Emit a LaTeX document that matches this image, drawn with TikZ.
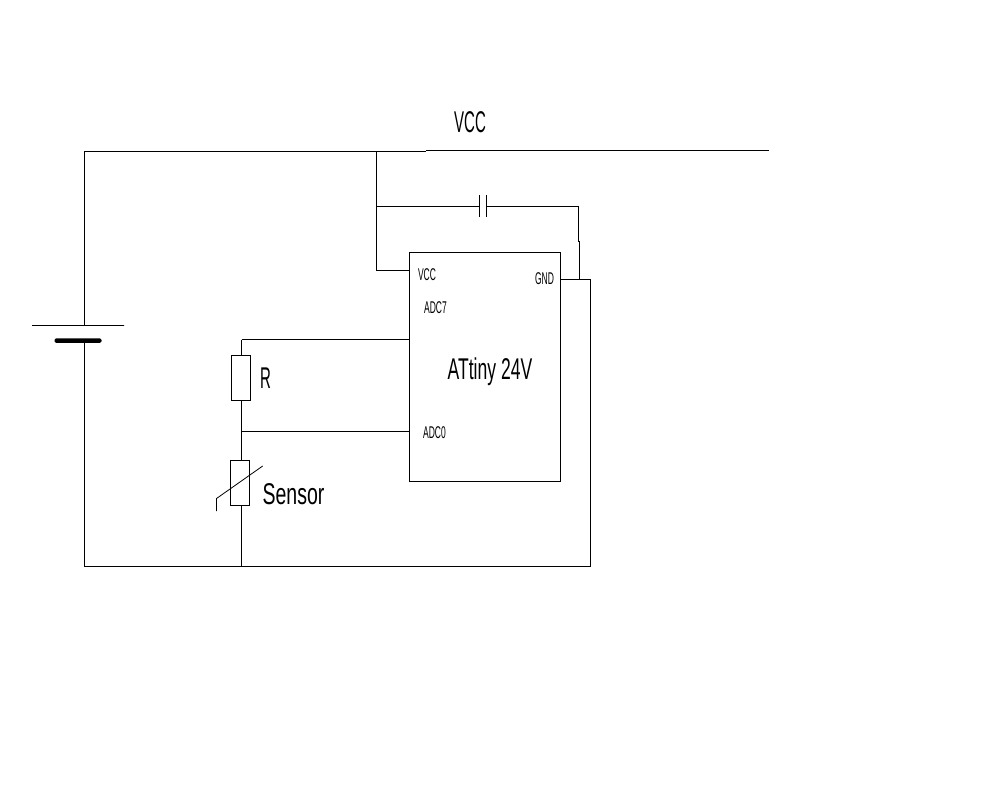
\documentclass[tikz,border=0pt]{standalone}
\usepackage{fontspec}
\setmainfont{Liberation Sans}[FakeStretch=0.5]
\newfontfamily\chipfont{Liberation Sans}[FakeStretch=0.585]
\newfontfamily\sensorfont{Liberation Sans}[FakeStretch=0.65]
\begin{document}
\begin{tikzpicture}[x=1pt,y=-1pt,line width=1pt,
  big/.style={inner sep=0pt,font=\fontsize{30}{30}\selectfont},
  chiptext/.style={inner sep=0pt,font=\chipfont\fontsize{30}{30}\selectfont},
  sensortext/.style={inner sep=0pt,font=\sensorfont\fontsize{30}{30}\selectfont},
  small/.style={inner sep=0pt,font=\fontsize{17}{17}\selectfont},
  part/.style={draw,inner sep=0pt,minimum width=19pt,minimum height=45pt}]
\useasboundingbox[fill=white] (0,0) rectangle (1007,811);
% coordinates
\coordinate (tl) at (84.5,151.5);
\coordinate (vj) at (376.5,151.5);
\coordinate (vs) at (426,151.5);
\coordinate (vs2) at (426,150.5);
\coordinate (ve) at (769,150.5);
\coordinate (bt) at (84.5,325);
\coordinate (bb) at (84.5,340);
\coordinate (bl) at (84.5,566.5);
\coordinate (bj) at (241.5,566.5);
\coordinate (br) at (590.5,566.5);
\coordinate (cj) at (376.5,206.5);
\coordinate (ce) at (578.5,206.5);
\coordinate (ck) at (578.5,241.5);
\coordinate (ck2) at (579.5,241.5);
\coordinate (gj) at (579.5,279.5);
\coordinate (gr) at (590.5,279.5);
\coordinate (pl) at (479.5,206.5);
\coordinate (pr) at (486.5,206.5);
% chip
\node[draw,inner sep=0pt,minimum width=151pt,minimum height=228.5pt] (chip) at (485,367) {};
\coordinate (pvcc) at (chip.west |- 0,270.5);
\coordinate (pgnd) at (chip.east |- 0,279.5);
\coordinate (padc7) at (chip.west |- 0,339.5);
\coordinate (padc0) at (chip.west |- 0,431.5);
\coordinate (rt) at (241.5,339.5);
\coordinate (rj) at (241.5,431.5);
\coordinate (vv) at (376.5,270.5);
% battery
\node[draw,inner sep=0pt,minimum width=92pt,minimum height=0pt] (plate) at (78,325.5) {};
\node[fill=black,rounded corners=1.5pt,inner sep=0pt,minimum width=47pt,minimum height=4.5pt] (neg) at (78,340.5) {};
% wires
\draw (plate.center -| bt) -- (tl) -- (vj) -- (vs);
\draw (vs2) -- (ve);
\draw (vj) -- (vv) -- (pvcc);
\draw (cj) -- (pl);
\draw (pr) -- (ce) -- (ck) -- (ck2) -- (gj);
\draw (pgnd) -- (gr) -- (br) -- (bl) -- (neg.center -| bb);
\draw (padc7) -- (rt);
\draw (padc0) -- (rj);
% resistor and sensor
\node[part] (R) at (241,378) {};
\node[part] (S) at (240,483) {};
\draw (rt) -- (R.north -| rt);
\draw (R.south -| rj) -- (rj) -- (S.north -| rj);
\draw (S.south -| bj) -- (bj);
\draw[line width=0.8pt] (262.7,466) -- (216.5,498.5) -- (216.5,511);
% capacitor
\draw (479.5,195) -- (479.5,217) (486.5,195) -- (486.5,217);
% labels
\node[big] (lv) at (470,122) {VCC};
\node[chiptext] (la) at (490,371.5) {ATtiny 24V};
\node[big] (lr) at (265.5,378) {R};
\node[sensortext] (ls) at (293.5,494) {Sensor};
\node[small] (t1) at (427,274.5) {VCC};
\node[small] (t2) at (435.5,307.5) {ADC7};
\node[small] (t3) at (434.5,433) {ADC0};
\node[small] (t4) at (544.5,278.5) {GND};
\end{tikzpicture}
\end{document}
